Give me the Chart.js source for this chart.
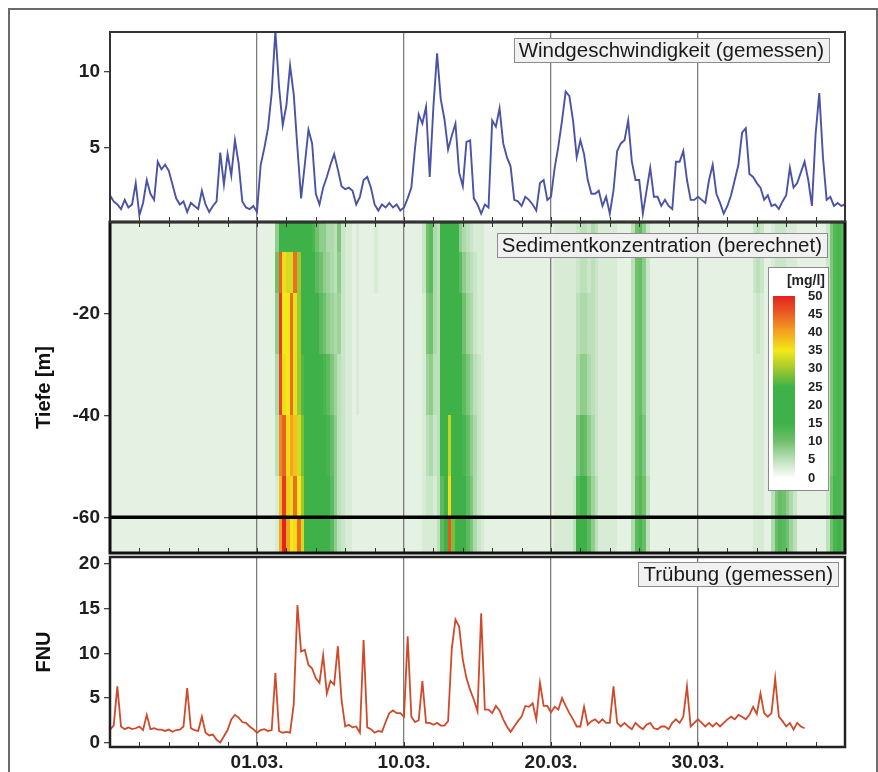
<!DOCTYPE html>
<html>
<head>
<meta charset="utf-8">
<script src="https://cdn.jsdelivr.net/npm/chart.js@4.4.1/dist/chart.umd.min.js"></script>
<style>
html, body { margin: 0; padding: 0; background: #fff; }
#wrap { position: relative; width: 878px; height: 772px; overflow: hidden; }
#frame { position: absolute; left: 8px; top: 8px; width: 866px; height: 800px; border: 2px solid #6b6b6b; }
canvas { position: absolute; left: 0; top: 0; }
</style>
</head>
<body>
<div id="wrap">
  <div id="frame"></div>
  <canvas id="sed" width="878" height="772"></canvas>
  <canvas id="wind" width="878" height="772"></canvas>
  <canvas id="turb" width="878" height="772"></canvas>
</div>
<script>
// time axis in days relative to 01.03., samples every 6 hours
const firstDay = -10;
const sampleStep = 0.25;
const xMin = -10, xMax = 40;
const xTickDays = [0, 10, 20, 30];
const xTickLabels = ['01.03.', '10.03.', '20.03.', '30.03.'];

// Windgeschwindigkeit (gemessen)
const windSpeed = [
  1.9, 1.5, 1.3, 1.0, 1.6, 1.1, 1.3, 2.7, 0.6, 1.4,
  2.9, 2.0, 1.6, 4.1, 3.6, 3.9, 3.5, 2.6, 1.7, 1.3,
  1.5, 0.8, 1.4, 1.2, 1.0, 2.2, 1.3, 0.8, 1.2, 1.5,
  4.7, 2.6, 4.6, 3.2, 5.5, 4.0, 1.5, 1.1, 1.0, 1.2,
  0.8, 3.9, 5.0, 6.3, 8.6, 12.7, 9.0, 6.5, 7.8, 10.4,
  8.5, 5.0, 1.7, 3.9, 6.2, 5.3, 2.0, 1.3, 2.4, 3.1,
  3.9, 4.6, 3.6, 2.5, 2.3, 2.4, 2.2, 1.3, 1.8, 2.9,
  3.1, 2.4, 1.3, 0.9, 1.3, 1.1, 1.4, 1.1, 1.3, 0.9,
  1.1, 1.7, 2.4, 5.0, 7.2, 6.6, 7.7, 3.1, 7.7, 11.2,
  8.2, 6.9, 4.9, 5.8, 6.6, 3.4, 2.5, 5.4, 5.5, 1.7,
  1.3, 0.7, 1.3, 1.1, 6.8, 6.4, 7.6, 5.3, 4.4, 3.8,
  1.6, 1.5, 1.2, 1.8, 1.6, 1.3, 0.9, 2.7, 2.9, 1.6,
  1.8, 3.7, 5.1, 6.8, 8.7, 8.4, 6.8, 4.4, 5.5, 4.6,
  2.9, 2.0, 2.0, 2.2, 1.2, 1.8, 0.7, 2.2, 4.8, 5.3,
  5.5, 6.8, 4.1, 2.9, 2.9, 0.7, 2.2, 3.7, 1.8, 1.8,
  1.2, 1.6, 1.2, 1.0, 4.1, 4.1, 4.8, 2.9, 1.6, 1.6,
  1.8, 1.6, 1.4, 2.9, 3.9, 2.0, 1.4, 0.7, 1.2, 1.9,
  2.9, 3.9, 6.0, 6.3, 3.3, 3.1, 2.7, 2.4, 1.6, 1.9,
  1.2, 1.3, 1.0, 1.5, 1.9, 3.7, 2.4, 2.7, 3.4, 4.1,
  2.9, 1.2, 5.9, 8.6, 4.4, 1.6, 1.8, 1.2, 1.4, 1.2,
  1.3
];
const windTicks = [5, 10];

// Trübung (gemessen), FNU
const turbidity = [
  1.45, 1.9, 6.3, 1.8, 1.5, 1.7, 1.5, 1.6, 1.8, 1.4,
  3.1, 1.5, 1.6, 1.45, 1.45, 1.3, 1.45, 1.2, 1.4, 1.45,
  1.8, 6.1, 1.6, 1.4, 1.3, 2.9, 1.1, 0.8, 0.9, 0.3,
  0.0, 0.7, 1.4, 2.6, 3.1, 2.8, 2.3, 2.2, 1.8, 1.5,
  1.1, 1.4, 1.5, 1.3, 1.4, 7.8, 1.3, 1.1, 1.2, 1.1,
  4.3, 15.4, 10.2, 10.4, 8.7, 8.3, 7.2, 6.7, 9.8, 5.5,
  6.9, 6.5, 10.8, 4.8, 1.8, 2.0, 1.7, 1.8, 1.1, 11.5,
  1.7, 1.5, 1.1, 1.3, 1.2, 2.3, 3.3, 3.6, 3.3, 3.3,
  2.9, 11.9, 2.9, 2.3, 2.5, 6.9, 2.2, 2.2, 2.0, 2.2,
  1.9, 1.9, 2.4, 10.5, 13.8, 13.0, 9.3, 7.2, 5.9, 4.8,
  3.5, 14.5, 3.7, 3.7, 3.3, 4.1, 3.6, 2.6, 1.8, 1.2,
  1.8, 2.4, 2.9, 4.1, 4.0, 4.4, 2.6, 6.7, 4.1, 4.1,
  3.4, 4.0, 3.7, 5.0, 4.1, 3.3, 2.6, 1.8, 1.8, 4.0,
  2.0, 2.4, 2.6, 2.2, 2.6, 2.2, 2.2, 6.3, 2.2, 1.8,
  2.2, 1.8, 1.5, 2.2, 1.8, 1.5, 2.0, 2.2, 1.6, 1.5,
  1.8, 1.8, 1.5, 2.2, 2.6, 2.2, 2.9, 6.3, 1.8, 2.2,
  2.6, 2.2, 1.8, 2.2, 1.8, 2.2, 1.8, 2.2, 2.6, 2.9,
  2.6, 3.1, 2.9, 2.6, 3.1, 4.0, 3.2, 5.5, 3.3, 2.9,
  3.3, 7.2, 2.9, 2.4, 1.8, 2.2, 1.45, 2.2, 1.8, 1.6
];
const turbTicks = [0, 5, 10, 15, 20];

// Sedimentkonzentration (berechnet), mg/l, one row per depth layer
const depthEdges = [-2, -8, -16, -28, -40, -52, -60, -67];
const depthTicks = [-20, -40, -60];
const sed02to08 = [
  2,2,2,2,2,2,2,2,2,2, 2,2,2,2,2,2,2,2,2,2, 2,2,2,2,2,2,2,2,2,2, 2,2,2,2,2,2,2,2,2,2,
  2,2,2,2,2,8,18,20,20,22, 22,20,20,18,18,14,10,8,8,6, 6,5,9,4,3,3,2,3,2,2, 2,2,3,2,2,2,2,2,2,2,
  2,2,2,2,2,4,10,12,6,5, 20,22,22,20,16,8,6,5,4,3, 3,3,2,2,2,2,2,2,2,2, 2,2,2,2,2,2,2,2,2,2,
  2,3,3,3,3,3,3,4,5,5, 4,6,5,3,3,3,3,3,2,2, 2,2,5,10,12,8,4,2,2,2, 2,2,2,2,2,2,2,2,2,2,
  2,2,2,2,2,2,2,2,2,2, 2,2,2,2,2,4,5,4,2,2, 3,4,4,4,3,3,3,2,2,2, 2,2,2,2,2,4,9,13,14,12
];
const sed08to16 = [
  2,2,2,2,2,2,2,2,2,2, 2,2,2,2,2,2,2,2,2,2, 2,2,2,2,2,2,2,2,2,2, 2,2,2,2,2,2,2,2,2,2,
  2,2,2,2,2,10,45,36,33,33, 44,30,24,20,18,15,12,10,8,7, 6,5,8,4,3,3,2,3,2,2, 2,2,3,2,2,2,2,2,2,2,
  2,2,2,2,2,4,10,12,6,5, 20,22,22,20,18,12,8,6,5,4, 3,3,2,2,2,2,2,2,2,2, 2,2,2,2,2,2,2,2,2,2,
  2,3,3,3,3,3,3,4,5,5, 4,5,4,3,3,3,3,3,2,2, 2,2,5,10,11,8,4,2,2,2, 2,2,2,2,2,2,2,2,2,2,
  2,2,2,2,2,2,2,2,2,2, 2,2,2,2,2,4,5,4,2,2, 3,4,4,4,3,3,3,2,2,2, 2,2,2,2,2,4,9,13,14,12
];
const sed16to28 = [
  2,2,2,2,2,2,2,2,2,2, 2,2,2,2,2,2,2,2,2,2, 2,2,2,2,2,2,2,2,2,2, 2,2,2,2,2,2,2,2,2,2,
  2,2,2,2,2,8,48,35,35,44, 34,30,24,20,20,18,15,12,10,8, 7,6,7,4,3,3,2,3,2,2, 2,2,2,2,2,2,2,2,2,2,
  2,2,2,2,2,3,9,10,6,5, 18,22,22,20,18,15,10,7,6,4, 3,3,2,2,2,2,2,2,2,2, 2,2,2,2,2,2,2,2,2,2,
  2,3,3,3,3,3,3,5,6,6, 5,5,4,3,3,3,3,3,2,2, 2,2,5,10,11,8,4,2,2,2, 2,2,2,2,2,2,2,2,2,2,
  2,2,2,2,2,2,2,2,2,2, 2,2,2,2,2,3,4,3,2,2, 3,4,4,4,3,3,3,2,2,2, 2,2,2,2,2,4,9,13,14,12
];
const sed28to40 = [
  2,2,2,2,2,2,2,2,2,2, 2,2,2,2,2,2,2,2,2,2, 2,2,2,2,2,2,2,2,2,2, 2,2,2,2,2,2,2,2,2,2,
  2,2,2,2,2,6,47,36,35,44, 34,30,26,22,20,20,18,16,14,12, 9,7,5,4,3,3,2,3,2,2, 2,2,2,2,2,2,2,2,2,2,
  2,2,2,2,2,3,7,8,5,5, 17,22,24,20,20,17,12,9,7,5, 4,3,2,2,2,2,2,2,2,2, 2,2,2,2,2,2,2,2,2,2,
  2,3,3,3,3,3,3,6,8,8, 6,5,4,3,3,3,3,3,2,2, 2,2,5,10,11,8,4,2,2,2, 2,2,2,2,2,2,2,2,2,2,
  2,2,2,2,2,2,2,2,2,2, 2,2,2,2,2,3,3,3,2,2, 3,5,5,5,4,3,3,2,2,2, 2,2,2,2,2,4,9,13,14,12
];
const sed40to52 = [
  2,2,2,2,2,2,2,2,2,2, 2,2,2,2,2,2,2,2,2,2, 2,2,2,2,2,2,2,2,2,2, 2,2,2,2,2,2,2,2,2,2,
  2,2,2,2,2,5,42,45,36,40, 38,33,28,22,20,20,20,18,16,14, 11,8,5,4,3,3,2,2,2,2, 2,2,2,2,2,2,2,2,2,2,
  2,2,2,2,2,3,5,6,4,5, 15,22,32,22,20,18,14,11,8,6, 4,3,2,2,2,2,2,2,2,2, 2,2,2,2,2,2,2,2,2,2,
  2,3,3,3,3,3,3,9,12,11, 8,6,4,3,3,3,3,3,2,2, 2,2,5,10,12,9,4,2,2,2, 2,2,2,2,2,2,2,2,2,2,
  2,2,2,2,2,2,2,2,2,2, 2,2,2,2,2,3,3,3,2,2, 4,6,7,7,6,4,3,2,2,2, 2,2,2,2,2,4,9,13,14,12
];
const sed52to60 = [
  2,2,2,2,2,2,2,2,2,2, 2,2,2,2,2,2,2,2,2,2, 2,2,2,2,2,2,2,2,2,2, 2,2,2,2,2,2,2,2,2,2,
  2,2,2,2,2,3,38,48,37,34, 44,35,30,24,20,20,20,20,18,15, 12,8,5,4,3,3,2,2,2,2, 2,2,2,2,2,2,2,2,2,2,
  2,2,2,2,2,3,4,4,3,5, 12,22,36,24,20,18,15,12,9,6, 4,3,2,2,2,2,2,2,2,2, 2,2,2,2,2,2,2,2,2,2,
  2,3,3,3,3,3,4,13,17,15, 10,7,5,3,3,3,3,3,2,2, 2,2,5,11,13,10,5,2,2,2, 2,2,2,2,2,2,2,2,2,2,
  2,2,2,2,2,2,2,2,2,2, 2,2,2,2,2,3,3,3,2,2, 5,9,11,10,8,6,4,2,2,2, 2,2,2,2,2,4,10,14,14,12
];
const sed60to67 = [
  2,2,2,2,2,2,2,2,2,2, 2,2,2,2,2,2,2,2,2,2, 2,2,2,2,2,2,2,2,2,2, 2,2,2,2,2,2,2,2,2,2,
  2,2,2,2,2,3,40,50,40,35, 36,44,33,24,22,20,20,20,18,16, 12,8,5,4,3,3,2,2,2,2, 2,2,2,2,2,2,2,2,2,2,
  2,2,2,2,2,3,3,3,3,5, 12,22,46,28,20,18,15,12,9,6, 4,3,2,2,2,2,2,2,2,2, 2,2,2,2,2,2,2,2,2,2,
  2,3,3,3,3,3,5,15,19,17, 12,8,5,3,3,3,3,3,2,2, 2,2,6,12,14,11,5,2,2,2, 2,2,2,2,2,2,2,2,2,2,
  2,2,2,2,2,2,2,2,2,2, 2,2,2,2,2,3,3,3,2,2, 6,11,13,12,10,7,5,2,2,2, 2,2,2,2,2,5,10,14,15,13
];
const sedimentRows = [sed02to08, sed08to16, sed16to28, sed28to40, sed40to52, sed52to60, sed60to67];
const legendTicks = [50, 45, 40, 35, 30, 25, 20, 15, 10, 5, 0];
const legendUnit = '[mg/l]';

// colour scale of the concentration
const colorStops = [
  [0, [255, 255, 255]], [2, [229, 241, 227]], [5, [188, 224, 186]], [10, [112, 192, 108]],
  [15, [62, 178, 72]], [25, [62, 178, 72]], [30, [160, 200, 45]], [35, [245, 232, 25]],
  [40, [244, 165, 32]], [45, [236, 95, 35]], [50, [226, 35, 30]]
];
function concColor(v) {
  for (let k = 1; k < colorStops.length; k++) {
    const [v1, c1] = colorStops[k];
    if (v <= v1) {
      const [v0, c0] = colorStops[k - 1];
      const t = (v - v0) / (v1 - v0);
      return 'rgb(' + c0.map((c, j) => Math.round(c + (c1[j] - c) * t)).join(',') + ')';
    }
  }
  return 'rgb(226,35,30)';
}

const FONT = '"Liberation Sans", Arial, Helvetica, sans-serif';
const tickFont = { family: FONT, size: 19, weight: 'bold' };
const titleFont = { family: FONT, size: 20, weight: 'bold' };

function toPoints(values) {
  return values.map((v, i) => ({ x: firstDay + i * sampleStep, y: v }));
}

function xAxis(showLabels) {
  return {
    type: 'linear', min: xMin, max: xMax,
    afterFit: s => { s.height = showLabels ? 25 : 0; },
    grid: {
      drawTicks: false,
      color: c => (c.tick && c.tick.value % 10 === 0 && c.tick.value > xMin && c.tick.value < xMax) ? '#7d7d7d' : 'rgba(0,0,0,0)',
      lineWidth: 1.3
    },
    border: { display: false },
    ticks: {
      display: showLabels, stepSize: 2, autoSkip: false, maxRotation: 0, padding: 4,
      font: tickFont, color: '#1e1e1e',
      callback: v => { const k = xTickDays.indexOf(v); return k >= 0 ? xTickLabels[k] : ''; }
    }
  };
}

function yAxis(min, max, tickValues, title) {
  return {
    type: 'linear', min, max,
    afterBuildTicks: s => { s.ticks = tickValues.map(v => ({ value: v })); },
    afterFit: s => { s.width = 110; },
    grid: { drawOnChartArea: false, drawTicks: true, tickLength: 6, color: '#444', lineWidth: 1.3 },
    border: { display: false },
    ticks: { font: tickFont, color: '#1e1e1e', padding: 4, callback: v => String(v) },
    title: title
      ? { display: true, text: title, font: titleFont, color: '#111', padding: { top: 32, bottom: 0 } }
      : { display: false }
  };
}

// heat map cells drawn through the chart's scales
const heatCells = {
  id: 'heatCells',
  beforeDraw(chart) {
    const { ctx, chartArea: a, scales: { x, y } } = chart;
    ctx.save();
    ctx.beginPath();
    ctx.rect(a.left, a.top, a.width, a.height);
    ctx.clip();
    sedimentRows.forEach((row, r) => {
      const y0 = Math.floor(y.getPixelForValue(depthEdges[r]));
      const y1 = Math.ceil(y.getPixelForValue(depthEdges[r + 1]));
      row.forEach((v, i) => {
        const d = firstDay + i * sampleStep;
        const x0 = Math.floor(x.getPixelForValue(d));
        const x1 = Math.ceil(x.getPixelForValue(d + sampleStep));
        ctx.fillStyle = concColor(v);
        ctx.fillRect(x0, y0, x1 - x0, y1 - y0);
      });
    });
    ctx.restore();
  }
};

const panelDeco = {
  id: 'panelDeco',
  afterDraw(chart, args, o) {
    const { ctx, chartArea: a, scales: { x, y } } = chart;
    ctx.save();
    // small inner tick marks on the time axis
    ctx.strokeStyle = '#333';
    ctx.lineWidth = 1;
    x.ticks.forEach(t => {
      if (t.value <= xMin || t.value >= xMax) return;
      const px = Math.round(x.getPixelForValue(t.value)) + 0.5;
      ctx.beginPath();
      ctx.moveTo(px, a.bottom); ctx.lineTo(px, a.bottom - 5);
      if (o.topTicks) { ctx.moveTo(px, a.top); ctx.lineTo(px, a.top + 5); }
      ctx.stroke();
    });
    if (o.refDepth !== undefined) {
      const py = y.getPixelForValue(o.refDepth);
      ctx.strokeStyle = '#000';
      ctx.lineWidth = 3.5;
      ctx.beginPath();
      ctx.moveTo(a.left, py); ctx.lineTo(a.right, py);
      ctx.stroke();
    }
    ctx.strokeStyle = o.frameColor;
    ctx.lineWidth = o.frameWidth;
    ctx.strokeRect(a.left, a.top, a.width, a.height);
    ctx.restore();
  }
};

const colorbar = {
  id: 'colorbar',
  afterDraw(chart) {
    const { ctx, chartArea: a } = chart;
    const bx = a.right - 77, by = a.top + 45, bw = 60, bh = 223;
    const top = by + 29, bottom = by + 211;
    ctx.save();
    ctx.fillStyle = '#fff';
    ctx.fillRect(bx, by, bw, bh);
    ctx.strokeStyle = '#8c8c8c';
    ctx.lineWidth = 1;
    ctx.strokeRect(bx + 0.5, by + 0.5, bw, bh);
    const g = ctx.createLinearGradient(0, bottom, 0, top);
    colorStops.forEach(([v, c]) => g.addColorStop(v / 50, 'rgb(' + c.join(',') + ')'));
    ctx.fillStyle = g;
    ctx.fillRect(bx + 5, top, 22, bottom - top);
    ctx.fillStyle = '#222';
    ctx.font = 'bold 13px ' + FONT;
    ctx.textAlign = 'left';
    ctx.textBaseline = 'middle';
    legendTicks.forEach(v => ctx.fillText(String(v), bx + 40, bottom - (bottom - top) * v / 50));
    ctx.font = 'bold 14px ' + FONT;
    ctx.textAlign = 'right';
    ctx.fillText(legendUnit, bx + bw - 3, by + 14);
    ctx.restore();
  }
};

const panelTitle = {
  id: 'panelTitle',
  afterDraw(chart, args, o) {
    const { ctx, chartArea: a } = chart;
    ctx.save();
    ctx.font = '20.5px ' + FONT;
    const w = ctx.measureText(o.text).width + 10, h = 24;
    const bx = a.right - o.right - w, by = a.top + o.top;
    ctx.fillStyle = '#f1f1f1';
    ctx.fillRect(bx, by, w, h);
    ctx.strokeStyle = '#8c8c8c';
    ctx.lineWidth = 1;
    ctx.strokeRect(Math.round(bx) + 0.5, by + 0.5, Math.round(w), h);
    ctx.fillStyle = '#1a1a1a';
    ctx.textBaseline = 'middle';
    ctx.fillText(o.text, bx + 5, by + h / 2 + 1);
    ctx.restore();
  }
};

function baseOptions(padding) {
  return {
    responsive: false, animation: false, devicePixelRatio: 1,
    layout: { padding },
    plugins: { legend: { display: false }, tooltip: { enabled: false } }
  };
}

// Sediment concentration (middle panel)
const sedOpts = baseOptions({ left: 0, right: 33, top: 222, bottom: 219 });
sedOpts.scales = { x: xAxis(false), y: yAxis(-67, -2, depthTicks, 'Tiefe [m]') };
sedOpts.plugins.panelDeco = { frameColor: '#111', frameWidth: 3, topTicks: true, refDepth: -60 };
sedOpts.plugins.panelTitle = { text: 'Sedimentkonzentration (berechnet)', right: 18, top: 11 };
new Chart(document.getElementById('sed'), {
  type: 'line',
  data: { datasets: [] },
  options: sedOpts,
  plugins: [heatCells, panelDeco, colorbar, panelTitle]
});

// Wind speed (top panel)
const windOpts = baseOptions({ left: 0, right: 33, top: 32, bottom: 550 });
windOpts.scales = { x: xAxis(false), y: yAxis(0.15, 12.6, windTicks, null) };
windOpts.plugins.panelDeco = { frameColor: '#333', frameWidth: 2, topTicks: false };
windOpts.plugins.panelTitle = { text: 'Windgeschwindigkeit (gemessen)', right: 16, top: 6 };
new Chart(document.getElementById('wind'), {
  type: 'line',
  data: {
    datasets: [{
      data: toPoints(windSpeed),
      borderColor: '#4a53a6', borderWidth: 1.9, pointRadius: 0, tension: 0
    }]
  },
  options: windOpts,
  plugins: [panelDeco, panelTitle]
});

// Turbidity (bottom panel)
const turbOpts = baseOptions({ left: 0, right: 33, top: 557, bottom: 0 });
turbOpts.scales = { x: xAxis(true), y: yAxis(-0.5, 20.8, turbTicks, 'FNU') };
turbOpts.plugins.panelDeco = { frameColor: '#222', frameWidth: 2.5, topTicks: false };
turbOpts.plugins.panelTitle = { text: 'Trübung (gemessen)', right: 7, top: 5 };
new Chart(document.getElementById('turb'), {
  type: 'line',
  data: {
    datasets: [{
      data: toPoints(turbidity),
      borderColor: '#cf4a2a', borderWidth: 1.8, pointRadius: 0, tension: 0
    }]
  },
  options: turbOpts,
  plugins: [panelDeco, panelTitle]
});
</script>
</body>
</html>
